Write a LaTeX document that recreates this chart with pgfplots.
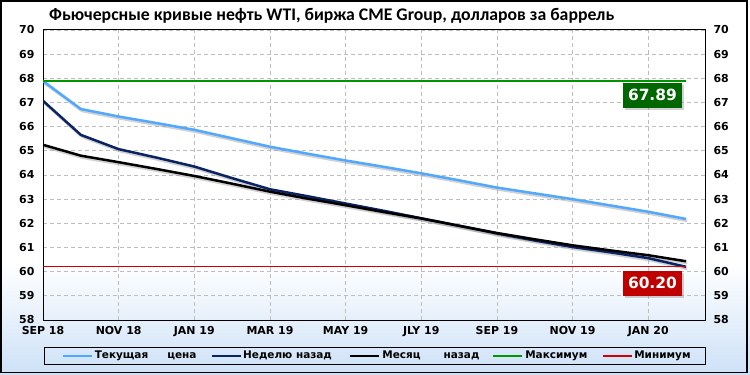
\documentclass[border=0pt]{standalone}
\usepackage{fontspec}
\setmainfont{DejaVu Sans}
\newfontfamily\titlefont{Carlito}
\usepackage{pgfplots}
\usepackage{pgfplotstable}
\pgfplotsset{compat=1.18}
\usetikzlibrary{shadows}

\definecolor{cur}{RGB}{80,168,255}
\definecolor{week}{RGB}{10,35,100}
\definecolor{maxc}{RGB}{0,150,0}
\definecolor{minc}{RGB}{210,0,0}
\definecolor{maxbox}{RGB}{0,102,0}
\definecolor{minbox}{RGB}{192,0,0}
\definecolor{bgblue}{RGB}{205,225,247}
\definecolor{gridc}{RGB}{190,190,190}

\pgfplotstableread{
m cur week month
0 67.89 67.07 65.25
1 66.73 65.66 64.80
2 66.42 65.07 64.53
3 66.15 64.72 64.25
4 65.87 64.35 63.96
5 65.52 63.87 63.64
6 65.17 63.41 63.31
7 64.88 63.12 63.02
8 64.60 62.82 62.75
9 64.34 62.52 62.47
10 64.07 62.21 62.20
11 63.78 61.90 61.90
12 63.48 61.58 61.60
13 63.24 61.29 61.34
14 63.00 61.02 61.09
15 62.74 60.80 60.88
16 62.48 60.56 60.68
17 62.18 60.20 60.43
}\futures

\pgfplotstableread{
m v
0 67.89
17 67.89
}\maxline

\pgfplotstableread{
m v
0 60.20
17 60.20
}\minline

\begin{document}
\begin{tikzpicture}
\useasboundingbox (0,0) rectangle (750bp,375bp);
\fill[white] (0,0) rectangle (750bp,375bp);
\shade[top color=white, bottom color=bgblue] (0,0) rectangle (750bp,112bp);
\draw[line width=1.5bp] (1.2bp,2.3bp) rectangle (746.8bp,374bp);

\node[anchor=base west, inner sep=0pt, font=\titlefont\bfseries\fontsize{17.8}{18}\selectfont] at (49bp,354.5bp)
  {Фьючерсные кривые нефть WTI, биржа CME Group, долларов за баррель};

\begin{axis}[
  at={(43bp,55bp)}, anchor=south west, scale only axis,
  width=662bp, height=290bp,
  xmin=0, xmax=17.5, ymin=58, ymax=70,
  xtick={0,2,...,16},
  xticklabels={SEP 18,NOV 18,JAN 19,MAR 19,MAY 19,JLY 19,SEP 19,NOV 19,JAN 20},
  ytick={58,59,...,70},
  grid=major,
  major grid style={gridc, line width=0.8bp, dash pattern=on 4bp off 3bp},
  axis line style={black, line width=1bp},
  tick style={draw=none},
  /pgf/number format/assume math mode=true,
  ticklabel style={font=\bfseries\fontsize{11}{13}\selectfont, text=black},
  yticklabel style={xshift=-5bp},
  xticklabel style={yshift=-3bp},
  legend columns=5,
  legend style={at={(0.0015,-0.1241)}, anchor=west, draw=black, line width=1bp,
    fill=none, inner xsep=17.45bp, inner ysep=4bp,
    nodes={inner sep=0pt, text depth=0.2em},
    font=\bfseries\fontsize{10.5}{12}\selectfont},
  legend cell align=left,
  legend image code/.code={\draw[#1] (0bp,0bp) -- (29bp,0bp);},
]
% shadows
\addplot[black!40, opacity=0.45, line width=2.5bp, forget plot, transform canvas={xshift=1.2bp,yshift=-2bp}] table[x=m,y=cur]{\futures};
\addplot[black!40, opacity=0.45, line width=2.5bp, forget plot, transform canvas={xshift=1.2bp,yshift=-2bp}] table[x=m,y=month]{\futures};
\addplot[black!40, opacity=0.45, line width=2.5bp, forget plot, transform canvas={xshift=1.2bp,yshift=-2bp}] table[x=m,y=week]{\futures};

\addplot[cur, line width=2.5bp] table[x=m,y=cur]{\futures};
\addlegendentry{\makebox[117.5bp][l]{\hspace{1.35bp}\makebox[101.7bp][s]{Текущая цена}}}
\addplot[week, line width=2.5bp] table[x=m,y=week]{\futures};
\addlegendentry{\makebox[106.3bp][l]{\hspace{0.75bp}Неделю назад}}
\addplot[black, line width=2.5bp] table[x=m,y=month]{\futures};
\addlegendentry{\makebox[112.4bp][l]{\hspace{2.25bp}\makebox[97bp][s]{Месяц назад}}}
\addplot[maxc, line width=1.3bp, legend image post style={line width=1.7bp}] table[x=m,y=v]{\maxline};
\addlegendentry{\makebox[79.3bp][l]{\hspace{2bp}Максимум}}
\addplot[minc, line width=1.3bp, legend image post style={line width=1.7bp}] table[x=m,y=v]{\minline};
\addlegendentry{\makebox[54.7bp][l]{\hspace{1bp}Минимум}}

\node[fill=maxbox, text=white, font=\bfseries\fontsize{15.5}{15.5}\selectfont, minimum width=59bp, minimum height=25bp, inner sep=0pt,
  drop shadow={shadow xshift=2.5bp, shadow yshift=-2.5bp, opacity=0.35}] at (axis cs:16.11,67.30) {67.89};
\node[fill=minbox, text=white, font=\bfseries\fontsize{15.5}{15.5}\selectfont, minimum width=59bp, minimum height=25bp, inner sep=0pt,
  drop shadow={shadow xshift=2.5bp, shadow yshift=-2.5bp, opacity=0.35}] at (axis cs:16.11,59.53) {60.20};
\end{axis}

\begin{axis}[
  at={(43bp,55bp)}, anchor=south west, scale only axis,
  width=662bp, height=290bp,
  xmin=0, xmax=17.5, ymin=58, ymax=70,
  axis y line*=right, axis x line=none,
  ytick={58,59,...,70},
  axis line style={black, line width=1bp},
  tick style={draw=none},
  /pgf/number format/assume math mode=true,
  ticklabel style={font=\bfseries\fontsize{11}{13}\selectfont, text=black},
  yticklabel style={xshift=5bp},
]
\addplot[draw=none] coordinates {(0,58)};
\end{axis}
\end{tikzpicture}
\end{document}
